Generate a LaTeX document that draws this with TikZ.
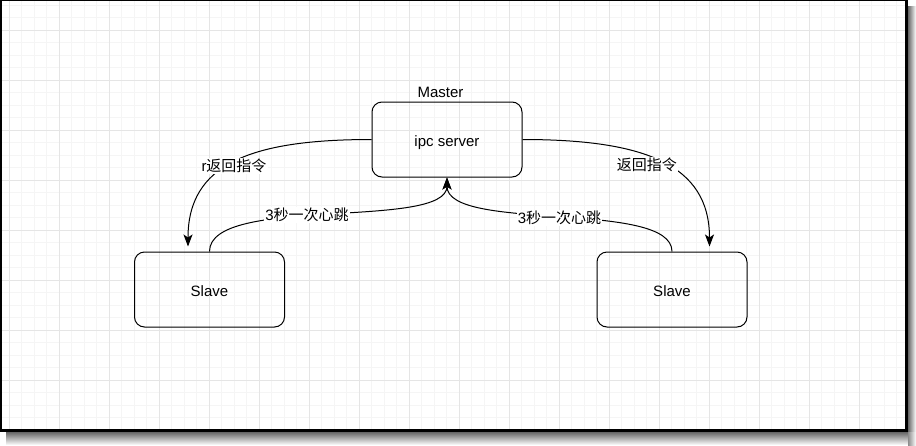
\documentclass[tikz,border=0pt]{standalone}
\usepackage{fontspec}
\setmainfont{Liberation Sans}
\newfontfamily\cjk{Noto Sans CJK SC}
\usetikzlibrary{arrows.meta}

\tikzset{
  box/.style={draw, line width=1pt, rounded corners=10pt, minimum width=150pt, minimum height=75pt,
    text height=14pt, text depth=0pt, font=\fontsize{15}{18}\selectfont},
  link/.style={line width=1pt, -{Stealth[length=12pt,width=9pt,inset=3pt]}},
  tag/.style={fill=white, inner sep=1pt, font=\fontsize{15}{18}\selectfont},
  gridminor/.style={black!4, line width=1pt},
  gridmajor/.style={black!10, line width=1pt},
}

\begin{document}
\begin{tikzpicture}[x=1pt, y=-1pt]
\useasboundingbox (0,0) rectangle (916,445);

% Shadow and frame of the screenshot
\shade[left color=black!60, right color=white] (908,6) rectangle (916,432);
\shade[top color=black!60, bottom color=white] (6,432) rectangle (908,445);
\shade[left color=black!45, right color=white] (908,432) rectangle (916,445);
\fill[black] (0,0) rectangle (908,432);
\fill[white] (2,1) rectangle (905,429);

% Draw the grid
\begin{scope}
\clip (2,1) rectangle (905,429);
\foreach \x in {9,21.5,...,905} \draw[gridminor] (\x,1) -- (\x,429);
\foreach \y in {5,17.5,...,429} \draw[gridminor] (2,\y) -- (905,\y);
\foreach \x in {9,59,...,905} \draw[gridmajor] (\x,1) -- (\x,429);
\foreach \y in {30,80,...,429} \draw[gridmajor] (2,\y) -- (905,\y);
\end{scope}

% Boxes
\node[box] (master) at (447,139.5) {ipc server};
\node[font=\fontsize{15}{18}\selectfont] (masterName) at (440.5,92) {Master};
\node[box] (slaveL) at (209.5,289.5) {Slave};
\node[box] (slaveR) at (672,289.5) {Slave};

% Commands from the master
\draw[link, shorten >=5pt] (master.west) .. controls +(-122,0) and +(0,-87) .. ([xshift=-21.5pt]slaveL.north)
  node[tag, pos=0.5, yshift=-3pt] (cmdL) {r{\cjk 返回指令}};
\draw[link, shorten >=5pt] (master.east) .. controls +(122,0) and +(0,-87) .. ([xshift=37.5pt]slaveR.north)
  node[tag, pos=0.5, xshift=-15pt, yshift=-2pt] (cmdR) {\cjk 返回指令};

% Heartbeats to the master
\draw[link] (slaveL.north) .. controls +(0,-57) and +(0,53) .. (master.south)
  node[tag, pos=0.44] (beatL) {3{\cjk 秒一次心跳}};
\draw[link] (slaveR.north) .. controls +(0,-52) and +(0,55) .. (master.south)
  node[tag, pos=0.5, yshift=-2pt] (beatR) {3{\cjk 秒一次心跳}};
\end{tikzpicture}
\end{document}
